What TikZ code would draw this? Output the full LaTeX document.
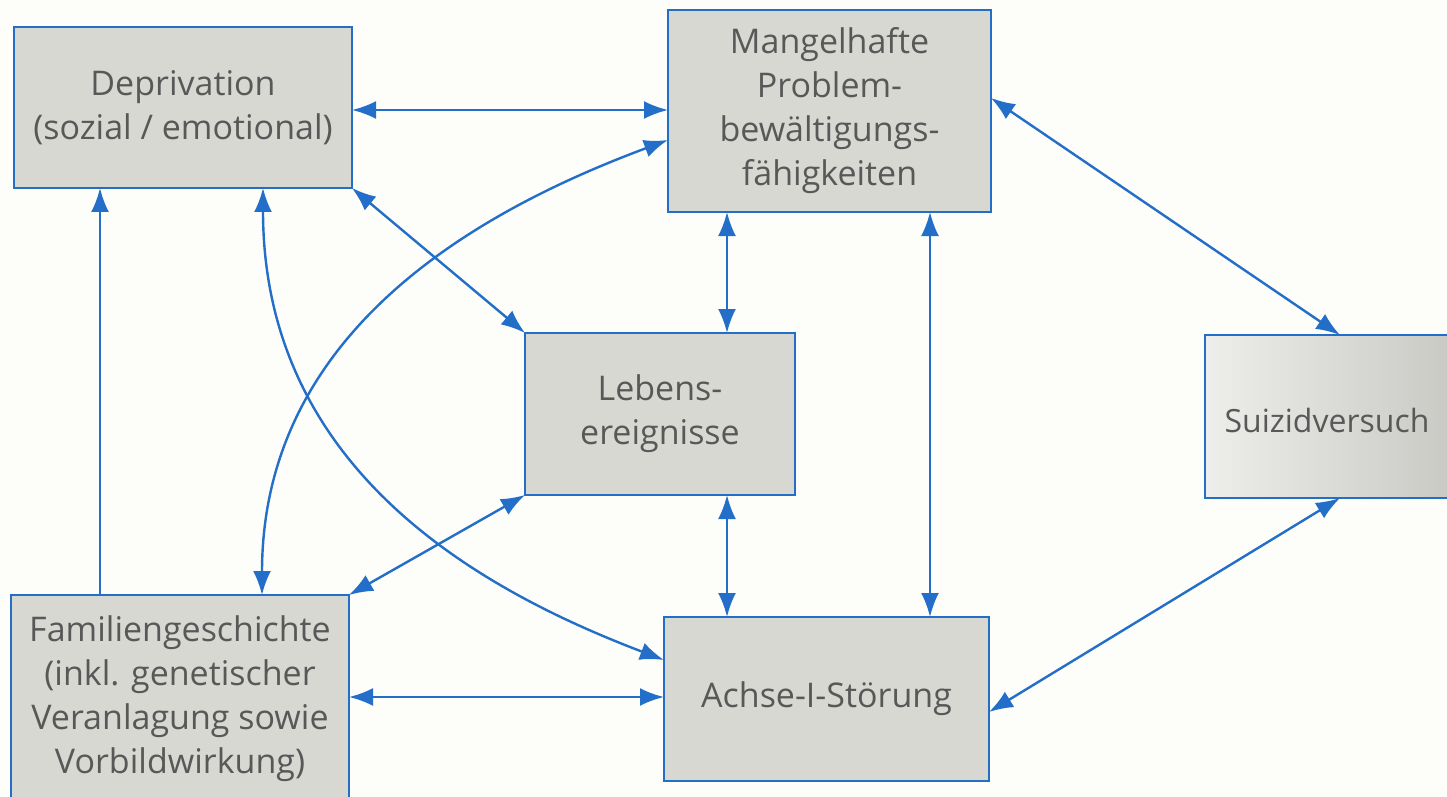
\documentclass[tikz,border=0pt]{standalone}
\usepackage{fontspec}
\setmainfont{Open Sans}
\usetikzlibrary{arrows.meta,calc}
\definecolor{bordblue}{RGB}{35,110,200}
\definecolor{boxfill}{RGB}{216,216,211}
\definecolor{txtgray}{RGB}{88,88,88}
\definecolor{bgc}{RGB}{253,253,250}
\begin{document}
\begin{tikzpicture}[x=0.5pt,y=-0.5pt,
  box/.style={draw=bordblue,line width=1.2pt,fill=boxfill,align=center,
    text=txtgray,font=\fontsize{17}{22}\selectfont,inner sep=0pt,outer sep=0pt},
  conn/.style={draw=bordblue,line width=1.2pt,{Latex[length=12pt,width=9pt]}-{Latex[length=12pt,width=9pt]}},
  oneway/.style={draw=bordblue,line width=1.2pt,-{Latex[length=12pt,width=9pt]}}]
\fill[bgc] (0,0) rectangle (1447,797);
\useasboundingbox (0,0) rectangle (1447,797);
\node[box,minimum width=169pt,minimum height=80.5pt] (dep) at (183,107.5) {Deprivation\\(sozial / emotional)};
\node[box,minimum width=161.5pt,minimum height=101pt] (man) at (829.5,111) {Mangelhafte\\Problem-\\bewältigungs-\\fähigkeiten};
\node[box,minimum width=135pt,minimum height=81pt] (leb) at (660,414) {Lebens-\\ereignisse};
\node[box,minimum width=124pt,minimum height=81.5pt,fill=none,left color=boxfill!45!white,right color=boxfill!93!black] (sui) at (1329,416.5) {};
\node[text=txtgray,font=\fontsize{16}{22}\selectfont] (suit) at (1327,420) {Suizidversuch};
\node[box,minimum width=169pt,minimum height=104pt] (fam) at (180,699) {Familiengeschichte\\(inkl. genetischer\\Veranlagung sowie\\Vorbildwirkung)};
\node[box,minimum width=162.5pt,minimum height=82pt] (ach) at (826.5,699) {Achse-I-Störung};
% connectors
\draw[conn] (dep.east |- 0,110) -- (man.west |- 0,110);
\draw[conn] (man.east |- 0,98) -- (1340,0 |- sui.north);
\draw[conn] (dep.south east) -- (leb.north west);
\draw[oneway] (100,0 |- fam.north) -- (100,0 |- dep.south);
\draw[conn] (263,0 |- dep.south) .. controls (263,470) and (480,590) .. (ach.west |- 0,660);
\draw[conn] (262,0 |- fam.north) .. controls (262,330) and (480,210) .. (man.west |- 0,140);
\draw[conn] (fam.north east) -- (leb.south west);
\draw[conn] (727,0 |- man.south) -- (727,0 |- leb.north);
\draw[conn] (930,0 |- man.south) -- (930,0 |- ach.north);
\draw[conn] (727,0 |- leb.south) -- (727,0 |- ach.north);
\draw[conn] (fam.east |- 0,697) -- (ach.west |- 0,697);
\draw[conn] (1340,0 |- sui.south) -- (ach.east |- 0,712);
\end{tikzpicture}
\end{document}
